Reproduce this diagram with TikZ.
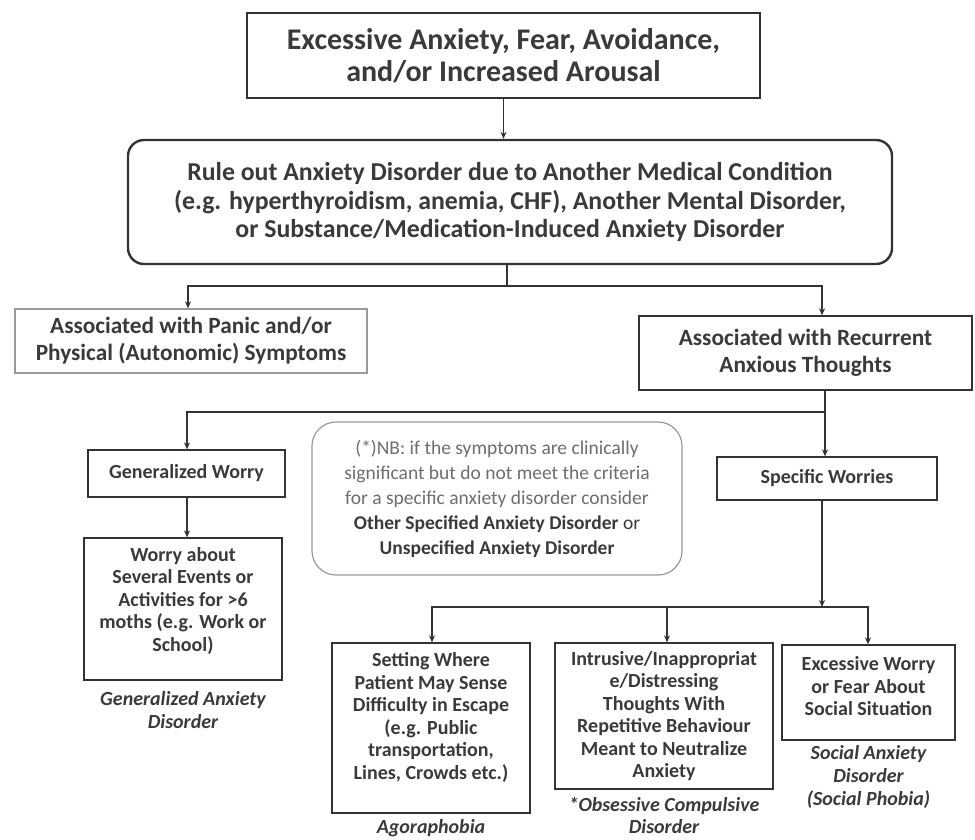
\documentclass[tikz,border=0pt]{standalone}
\usepackage{fontspec}
\setmainfont{Carlito}
\usetikzlibrary{arrows.meta}
\definecolor{txt}{HTML}{3A3A3A}
\definecolor{linec}{HTML}{333333}
\definecolor{lightline}{HTML}{9A9A9A}
\definecolor{nbtxt}{HTML}{6E6E6E}
\tikzset{
  box/.style={draw=linec, line width=1.3pt, align=center, inner sep=2pt, text=txt},
  fTop/.style={font=\fontsize{30}{32}\selectfont\bfseries},
  fRule/.style={font=\fontsize{25.8}{28.8}\selectfont\bfseries},
  fMid/.style={font=\fontsize{23.3}{27}\selectfont\bfseries},
  fSmall/.style={font=\fontsize{20}{22.5}\selectfont\bfseries},
  fLab/.style={font=\fontsize{20}{23}\selectfont\bfseries\itshape, text=txt, align=center, inner sep=0pt},
  arr/.style={-{Stealth[length=7pt,width=6pt]}, line width=1.2pt, draw=linec},
  ln/.style={line width=1.2pt, draw=linec}
}
\begin{document}
\begin{tikzpicture}[x=1pt,y=-1pt]
\useasboundingbox[fill=white] (0,0) rectangle (975,839);

\node[box, fTop, minimum width=513pt, minimum height=85pt] (top) at (503.5,55.5)
  {Excessive Anxiety, Fear, Avoidance,\\ and/or Increased Arousal};
\node[box, fRule, line width=2.4pt, rounded corners=16pt, minimum width=764pt, minimum height=124pt] (rule) at (510,202)
  {Rule out Anxiety Disorder due to Another Medical Condition\\ (e.g. hyperthyroidism, anemia, CHF), Another Mental Disorder,\\ or Substance/Medication-Induced Anxiety Disorder};
\node[box, fMid, draw=lightline, minimum width=352pt, minimum height=64pt] (panic) at (191,341)
  {Associated with Panic and/or\\ Physical (Autonomic) Symptoms};
\node[box, fMid, minimum width=333pt, minimum height=74pt] (recur) at (805.5,353)
  {Associated with Recurrent\\ Anxious Thoughts};
\node[box, fSmall, minimum width=197pt, minimum height=47pt] (gw) at (186.5,473.5)
  {Generalized Worry};
\node[box, fSmall, text depth=20pt, minimum width=198pt, minimum height=142pt] (worry) at (183,609)
  {Worry about\\ Several Events or\\ Activities for >6\\ moths (e.g. Work or\\ School)};
\node[fLab] (gadl) at (183,710) {Generalized Anxiety\\ Disorder};

\node[draw=lightline, line width=1.2pt, rounded corners=24pt, minimum width=370pt, minimum height=153pt, align=center, text=nbtxt,
  font=\fontsize{19.5}{25}\selectfont] (nb) at (497,498.5)
  {(*)NB: if the symptoms are clinically\\ significant but do not meet the criteria\\ for a specific anxiety disorder consider\\
   \textcolor{txt}{\bfseries Other Specified Anxiety Disorder} \textcolor{txt}{or}\\ \textcolor{txt}{\bfseries Unspecified Anxiety Disorder}};

\node[box, fSmall, minimum width=220pt, minimum height=43pt] (sw) at (827,478.5)
  {Specific Worries};

\node[box, fSmall, text depth=24pt, minimum width=198pt, minimum height=170pt] (ago) at (431,728)
  {Setting Where\\ Patient May Sense\\ Difficulty in Escape\\ (e.g. Public\\ transportation,\\ Lines, Crowds etc.)};
\node[fLab] (agol) at (431,828) {Agoraphobia};
\node[box, fSmall, minimum width=218pt, minimum height=146pt] (ocd) at (664,716)
  {Intrusive/Inappropriat\\ e/Distressing\\ Thoughts With\\ Repetitive Behaviour\\ Meant to Neutralize\\ Anxiety};
\node[fLab, font=\fontsize{20}{22}\selectfont\bfseries\itshape] (ocdl) at (664,815) {*Obsessive Compulsive\\ Disorder};
\node[box, fSmall, text depth=13pt, minimum width=173pt, minimum height=95pt] (soc) at (868.5,692.5)
  {Excessive Worry\\ or Fear About\\ Social Situation};
\node[fLab] (socl) at (868.5,777) {Social Anxiety\\ Disorder\\ (Social Phobia)};

% connectors
\draw[arr] (top.south) -- (top.south |- rule.north);
\coordinate (j1) at (507,286);
\draw[ln] (j1 |- rule.south) -- (j1);
\draw[arr] (j1) -| (188,0 |- panic.north);
\draw[arr] (j1) -| (822,0 |- recur.north);
\coordinate (j2) at (825,412);
\draw[arr] (j2 |- recur.south) -- (j2 |- sw.north);
\draw[arr] (j2) -| (187,0 |- gw.north);
\draw[arr] (187,0 |- gw.south) -- (187,0 |- worry.north);
\coordinate (j3) at (822,607);
\draw[arr] (j3 |- sw.south) -- (j3);
\draw[arr] (j3) -| (432,0 |- ago.north);
\draw[arr] (j3) -| (868,0 |- soc.north);
\draw[arr] (667,607) -- (667,0 |- ocd.north);
\end{tikzpicture}
\end{document}
